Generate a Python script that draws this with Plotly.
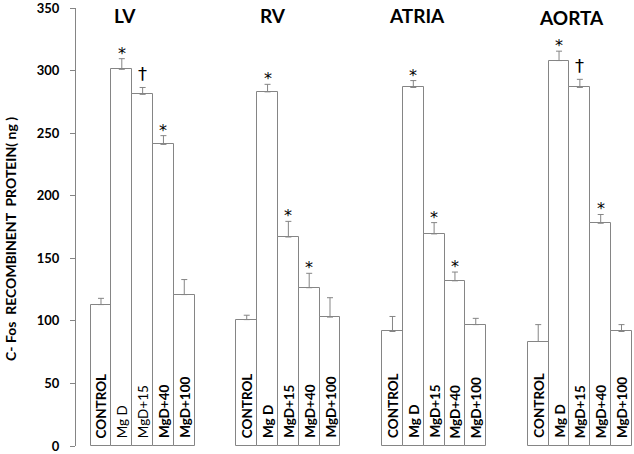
import plotly.graph_objects as go

# ---- data ----
groups = ["LV", "RV", "ATRIA", "AORTA"]
categories = ["CONTROL", "Mg D", "MgD+15", "MgD+40", "MgD+100"]
lv_values = [113, 301, 281, 241, 121]
lv_errors = [5, 8.5, 5.5, 7, 12]
rv_values = [101, 283, 167, 126.5, 103]
rv_errors = [3.5, 6, 12.5, 11.5, 15.5]
atria_values = [91.5, 286.5, 169.5, 132, 97]
atria_errors = [12, 5.5, 9, 7, 5]
aorta_values = [83.5, 308, 286.5, 178, 91.5]
aorta_errors = [13.5, 7.5, 6.5, 7, 5.5]
lv_marks = ["", "*", "†", "*", ""]
rv_marks = ["", "*", "*", "*", ""]
atria_marks = ["", "*", "*", "*", ""]
aorta_marks = ["", "*", "†", "*", ""]
y_ticks = [0, 50, 100, 150, 200, 250, 300, 350]
y_title = "C- Fos  RECOMBINENT  PROTEIN( ng )"

values = [lv_values, rv_values, atria_values, aorta_values]
errors = [lv_errors, rv_errors, atria_errors, aorta_errors]
marks = [lv_marks, rv_marks, atria_marks, aorta_marks]

GRAY = "#858585"
FONT = "Lato"
MARK_FONT = "DejaVu Sans"
group_step = 7  # 5 bars + 2 gap slots

xs, ys, es = [], [], []
for g in range(len(groups)):
    for i in range(len(categories)):
        xs.append(g * group_step + i)
        ys.append(values[g][i])
        es.append(errors[g][i])

fig = go.Figure()
fig.add_trace(go.Bar(
    x=xs, y=ys, width=1,
    marker=dict(color="white", line=dict(color=GRAY, width=1)),
    error_y=dict(type="data", array=es, arrayminus=[0] * len(es), symmetric=False,
                 color=GRAY, thickness=1, width=3),
    showlegend=False, hoverinfo="skip",
))

annotations = []
for g in range(len(groups)):
    for i, cat in enumerate(categories):
        thin = (g == 0 and i in (1, 2))
        annotations.append(dict(
            x=g * group_step + i, y=0, xref="x", yref="y",
            text=cat if thin else "<b>" + cat + "</b>",
            textangle=-90, showarrow=False, xanchor="center", yanchor="bottom",
            yshift=6, font=dict(family=FONT, size=13.5, color="black"),
        ))
        m = marks[g][i]
        if m:
            annotations.append(dict(
                x=g * group_step + i, y=values[g][i] + errors[g][i], xref="x", yref="y",
                text=m, showarrow=False, xanchor="center", yanchor="bottom",
                yshift=-6 if m == "*" else 1,
                font=dict(family=MARK_FONT, size=16 if m == "*" else 18, color="black"),
            ))

# group titles
title_offsets = [-0.85, -0.74, -0.84, -0.38]
title_y = [344, 344, 344, 342.5]
for g, name in enumerate(groups):
    annotations.append(dict(
        x=g * group_step + 2 + title_offsets[g], y=title_y[g], xref="x", yref="y",
        text="<b>" + name + "</b>", showarrow=False, xanchor="center", yanchor="middle",
        font=dict(family=FONT, size=19, color="black"),
    ))

# y-axis title (pixel position converted to paper coords)
annotations.append(dict(
    x=(11 - 76) / 558, y=(447 - 239) / 440, xref="paper", yref="paper",
    xanchor="center", yanchor="middle",
    text="<b>" + y_title + "</b>", textangle=-90, showarrow=False,
    font=dict(family=FONT, size=14, color="black"),
))

fig.update_layout(
    width=634, height=454,
    margin=dict(l=76, r=0, t=7, b=7),
    paper_bgcolor="white", plot_bgcolor="white",
    bargap=0,
    annotations=annotations,
    xaxis=dict(range=[-1.2, 25.6], visible=False, fixedrange=True),
    yaxis=dict(range=[0, 350], tickvals=y_ticks, showgrid=False, zeroline=False,
               showline=True, linecolor=GRAY, linewidth=1,
               ticks="outside", ticklen=5, tickcolor=GRAY,
               ticklabelstandoff=8, ticklabeloverflow="allow",
               tickfont=dict(family=FONT, size=13, color="black", weight="bold")),
    font=dict(family=FONT),
)

fig.write_html("out.html", config={"displayModeBar": False},
               post_script="document.body.style.margin='0';document.body.style.overflow='hidden';")
